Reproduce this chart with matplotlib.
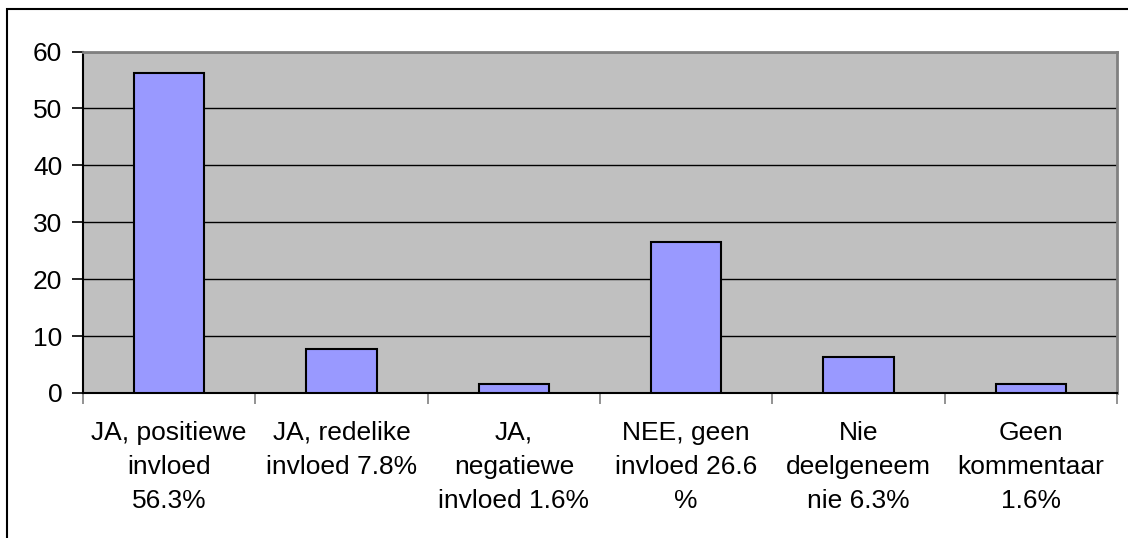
import matplotlib.pyplot as plt
import numpy as np

# Data
labels = ["JA, positiewe\ninvloed\n56.3%",
          "JA, redelike\ninvloed 7.8%",
          "JA,\nnegatiewe\ninvloed 1.6%",
          "NEE, geen\ninvloed 26.6\n%",
          "Nie\ndeelgeneem\nnie 6.3%",
          "Geen\nkommentaar\n1.6%"]
values = [56.3, 7.8, 1.6, 26.6, 6.3, 1.6]
yticks = [0, 10, 20, 30, 40, 50, 60]

plt.rcParams['font.family'] = ['Liberation Sans', 'DejaVu Sans']

fig = plt.figure(figsize=(11.28, 5.38), dpi=100)
W, H = 1128, 538

# outer chart border
fig.add_artist(plt.Rectangle((7 / W, -0.01), 1.2, 1 - 9 / H + 0.01,
                             transform=fig.transFigure, fill=False,
                             edgecolor='black', linewidth=1.5))

ax = fig.add_axes([83 / W, 1 - 393 / H, (1117 - 83) / W, (393 - 51.5) / H])
ax.set_facecolor('#C0C0C0')

x = np.arange(len(values))
ax.bar(x, values, width=0.41, color='#9999FF', edgecolor='black',
       linewidth=1.5, zorder=3)

ax.set_xlim(-0.5, len(values) - 0.5)
ax.set_ylim(0, 60)
ax.set_yticks(yticks)
ax.yaxis.grid(True, color='black', linewidth=1, zorder=1)
ax.set_axisbelow(True)

# category ticks sit between the bars
ax.set_xticks(np.arange(-0.5, len(values) + 0.5, 1))
ax.set_xticklabels([])
ax.set_xticks(x, minor=True)
ax.set_xticklabels(labels, minor=True, fontsize=19, linespacing=1.53, va='top')
ax.tick_params(axis='x', which='minor', length=0, pad=20)
ax.tick_params(axis='x', which='major', length=8, width=1.2, color='#808080')
ax.tick_params(axis='y', length=8, width=1.2, color='black', labelsize=19, pad=7)

for s in ['left', 'bottom']:
    ax.spines[s].set_color('black')
    ax.spines[s].set_linewidth(1.5)
for s in ['top', 'right']:
    ax.spines[s].set_color('#808080')
    ax.spines[s].set_linewidth(2)

fig.savefig('out.png', dpi=100)
